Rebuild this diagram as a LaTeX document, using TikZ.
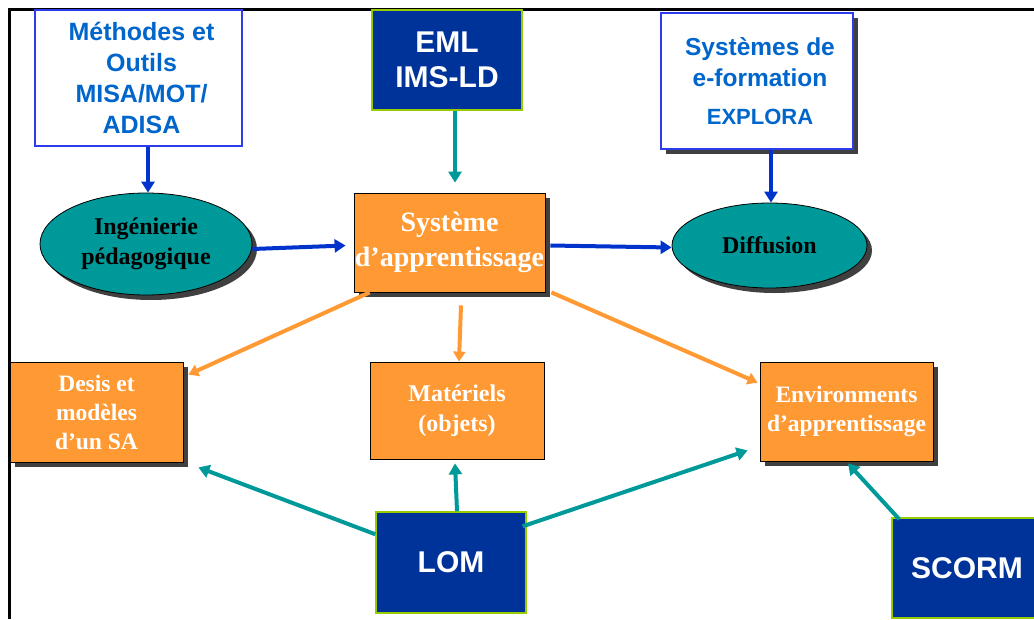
\documentclass[tikz,border=0pt]{standalone}
\usepackage{fontspec}
\setmainfont{Liberation Serif}
\newfontfamily\arialf{Liberation Sans}
\usetikzlibrary{arrows.meta,shapes.geometric,shadows}

\definecolor{motblue}{RGB}{0,102,204}
\definecolor{edgeblue}{RGB}{45,60,235}
\definecolor{arrowblue}{RGB}{0,51,204}
\definecolor{tealc}{RGB}{0,153,153}
\definecolor{navyc}{RGB}{0,51,153}
\definecolor{limec}{RGB}{153,204,0}
\definecolor{orangec}{RGB}{255,153,51}
\definecolor{shadowc}{RGB}{64,64,64}

\newcommand{\sansfs}[2]{\arialf\bfseries\fontsize{#1}{#2}\selectfont}
\newcommand{\seriffs}[2]{\bfseries\fontsize{#1}{#2}\selectfont}

\begin{document}
\begin{tikzpicture}[x=1pt,y=-1pt,
    outilbox/.style={draw=edgeblue,line width=1.5pt,fill=white,text=motblue,align=center,inner sep=0pt},
    normebox/.style={draw=limec,line width=1.5pt,fill=navyc,text=white,align=center,inner sep=0pt,font=\sansfs{30}{35}},
    sabox/.style={draw=black,line width=0.8pt,fill=orangec,text=white,align=center,inner sep=0pt},
    processell/.style={ellipse,draw=black,line width=0.8pt,fill=tealc,text=black,align=center,inner sep=0pt,font=\seriffs{24}{30}},
    ombre/.style={drop shadow={shadow xshift=5pt,shadow yshift=-5pt,fill=shadowc,opacity=1}},
    bluearrow/.style={draw=arrowblue,line width=4pt,-{Triangle[length=11pt,width=13pt]}},
    tealarrow/.style={draw=tealc,line width=4pt,-{Triangle[length=11pt,width=13pt]}},
    orangearrow/.style={draw=orangec,line width=4pt,-{Triangle[length=10pt,width=12pt]}}]
\useasboundingbox (0,0) rectangle (1034,619);
\clip (0,0) rectangle (1034,619);

% cadre
\draw[line width=3pt] (1034,9.5) -- (9.5,9.5) -- (9.5,619);

% boites du haut
\node[outilbox,minimum width=207pt,minimum height=136pt,font=\sansfs{25}{31}] (mot) at (138.5,78)
  {\hspace*{6pt}Méthodes et\\\hspace*{6pt}Outils\\\hspace*{6pt}MISA/MOT/\\\hspace*{6pt}ADISA};
\node[normebox,minimum width=150pt,minimum height=100pt] (eml) at (447,60)
  {EML\\IMS-LD};
\node[outilbox,ombre,minimum width=192pt,minimum height=136pt,font=\sansfs{24.5}{31}] (sysf) at (757,81)
  {\hspace*{6pt}Systèmes de\\\hspace*{6pt}e-formation\\[7pt]\hspace*{6pt}{\fontsize{22}{26}\selectfont EXPLORA}};

% milieu
\node[processell,ombre,minimum width=212pt,minimum height=102pt] (ing) at (146,244)
  {Ingénierie\\pédagogique};
\node[sabox,ombre,minimum width=191pt,minimum height=99pt,font=\seriffs{28}{35}] (sa) at (449.5,242.5)
  {Système\\d’apprentissage};
\node[processell,ombre,minimum width=195pt,minimum height=85pt] (diff) at (769.5,245.5)
  {Diffusion};

% bas
\node[sabox,ombre,minimum width=173pt,minimum height=100pt,font=\seriffs{23.5}{29}] (desis) at (96.5,412)
  {Desis et\\modèles\\d’un SA};
\node[sabox,minimum width=174pt,minimum height=97pt,font=\seriffs{24}{30}] (mat) at (457,410.5)
  {Matériels\\(objets)};
\node[sabox,ombre,minimum width=173pt,minimum height=99pt,font=\seriffs{23.5}{29}] (env) at (846.5,411.5)
  {Environments\\d’apprentissage};
\node[normebox,minimum width=150pt,minimum height=101pt] (lom) at (451,562.5) {LOM};
\node[normebox,minimum width=150pt,minimum height=100pt] (scorm) at (967,568) {SCORM};

% fleches
\draw[bluearrow] ([xshift=9.5pt]mot.south) -- ([xshift=2pt]ing.north);
\draw[tealarrow] ([xshift=8pt]eml.south) -- ([xshift=5.5pt,yshift=10pt]sa.north);
\draw[bluearrow] ([xshift=14pt]sysf.south) -- ([xshift=1.5pt]diff.north);
\draw[bluearrow] ([yshift=-5pt]ing.east) -- ([xshift=-8pt,yshift=-3pt]sa.west);
\draw[bluearrow] ([xshift=5pt,yshift=-3pt]sa.east) -- ([yshift=-2pt]diff.west);

\draw[orangearrow] ([xshift=16pt]sa.south west) -- ([xshift=5pt,yshift=-13pt]desis.north east);
\draw[orangearrow] ([xshift=11.5pt,yshift=-13pt]sa.south) -- ([xshift=2pt]mat.north);
\draw[orangearrow] ([xshift=6pt]sa.south east) -- ([xshift=-2pt,yshift=-21pt]env.north west);

\draw[tealarrow] ([yshift=-23pt]lom.north west) -- ([xshift=15pt,yshift=-5pt]desis.south east);
\draw[tealarrow] ([xshift=6pt]lom.north) -- ([xshift=-2pt,yshift=-4pt]mat.south);
\draw[tealarrow] ([xshift=-4pt,yshift=-15pt]lom.north east) -- ([xshift=-12pt,yshift=11pt]env.south west);
\draw[tealarrow] ([xshift=8pt,yshift=-2pt]scorm.north west) -- ([xshift=1.5pt,yshift=-2pt]env.south);
\end{tikzpicture}
\end{document}
